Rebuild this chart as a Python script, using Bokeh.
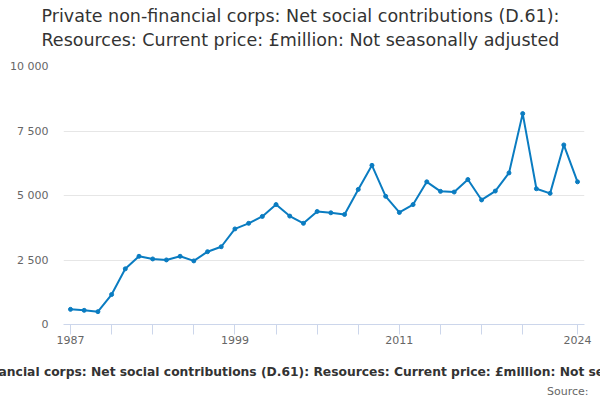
from bokeh.plotting import figure
from bokeh.models import FixedTicker, Title, ColumnDataSource, Range1d
from bokeh.embed import file_html
from bokeh.resources import INLINE

years = list(range(1987, 2025))
values = [587, 549, 498, 1162, 2158, 2644, 2541, 2503, 2644, 2465,
          2822, 3014, 3704, 3921, 4189, 4649, 4202, 3921, 4381, 4330,
          4266, 5236, 6169, 4968, 4342, 4649, 5530, 5160, 5134, 5619,
          4828, 5172, 5875, 8174, 5262, 5083, 6960, 5530]

x_ticks = [1987, 1990, 1993, 1996, 1999, 2002, 2005, 2008, 2011, 2014, 2017, 2020, 2024]
x_labeled = [1987, 1999, 2011, 2024]
y_ticks = [0, 2500, 5000, 7500, 10000]
y_labels = ["0", "2 500", "5 000", "7 500", "10 000"]

title1 = "Private non-financial corps: Net social contributions (D.61):"
title2 = "Resources: Current price: £million: Not seasonally adjusted"
axis_title = "Private non-financial corps: Net social contributions (D.61): Resources: Current price: £million: Not seasonally adjusted"
source_text = "Source:"

FONT = "DejaVu Sans"
LINE = "#0a7cc1"

src = ColumnDataSource(data=dict(x=years, y=values))

p = figure(width=600, height=400, output_backend="svg", toolbar_location=None,
           x_range=Range1d(1986.49, 2024.51), y_range=Range1d(0, 10000),
           min_border_left=63, min_border_right=16, min_border_top=66, min_border_bottom=73)
p.title = None
p.outline_line_color = None

# below panel: axis, spacer, axis title line, source line
p.add_layout(Title(text=" ", align="left", text_font=FONT, text_font_size="1px",
                   text_color="#ffffff", standoff=13), "below")
p.add_layout(Title(text=axis_title, align="left", text_font=FONT, text_font_size="12.3px",
                   text_color="#333333", text_font_style="bold", standoff=1, offset=-168), "below")
p.add_layout(Title(text=source_text, align="right", text_font=FONT, text_font_size="11px",
                   text_color="#666666", text_font_style="normal", standoff=6, offset=-4), "below")

# above panel: spacer then the two title lines
p.add_layout(Title(text=" ", align="left", text_font=FONT, text_font_size="1px",
                   text_color="#ffffff", standoff=12.5), "above")
p.add_layout(Title(text=title2, align="left", text_font=FONT, text_font_size="17.5px",
                   text_color="#333333", text_font_style="normal", standoff=1.5, offset=-22), "above")
p.add_layout(Title(text=title1, align="left", text_font=FONT, text_font_size="17.5px",
                   text_color="#333333", text_font_style="normal", standoff=1, offset=-22), "above")

p.line("x", "y", source=src, line_color=LINE, line_width=2)
p.scatter("x", "y", source=src, size=4, color=LINE)

p.xgrid.grid_line_color = None
p.ygrid.grid_line_color = "#e6e6e6"
p.ygrid.ticker = FixedTicker(ticks=y_ticks)

xa = p.xaxis[0]
xa.ticker = FixedTicker(ticks=x_ticks)
xa.major_label_overrides = {t: (str(t) if t in x_labeled else "") for t in x_ticks}
xa.axis_line_color = "#ccd6eb"
xa.major_tick_line_color = "#ccd6eb"
xa.major_tick_out = 10
xa.major_tick_in = 0
xa.minor_tick_line_color = None
xa.major_label_text_font = FONT
xa.major_label_text_font_size = "11px"
xa.major_label_text_color = "#666666"
xa.major_label_standoff = 1

ya = p.yaxis[0]
ya.ticker = FixedTicker(ticks=y_ticks)
ya.major_label_overrides = {t: l for t, l in zip(y_ticks, y_labels)}
ya.axis_line_color = None
ya.major_tick_line_color = None
ya.minor_tick_line_color = None
ya.major_tick_out = 0
ya.major_tick_in = 0
ya.major_label_text_font = FONT
ya.major_label_text_font_size = "11px"
ya.major_label_text_color = "#666666"
ya.major_label_standoff = 15

open("out.html", "w").write(file_html(p, INLINE))
